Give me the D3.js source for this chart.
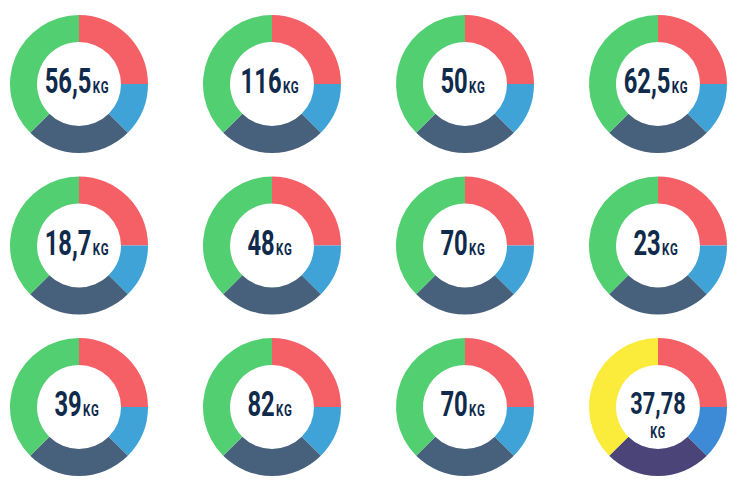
<!DOCTYPE html>
<html>
<head>
<meta charset="utf-8">
<script src="https://cdn.jsdelivr.net/npm/d3@7"></script>
<style>
  body { margin: 0; background: #fff; }
  text { font-family: Roboto, "Open Sans", sans-serif; font-weight: 700; fill: #0f2a4b; }
</style>
</head>
<body>
<div id="chart"></div>
<script>
var weights = ['56,5', '116', '50', '62,5', '18,7', '48', '70', '23', '39', '82', '70', '37,78']
var segments = ['a', 'b', 'c', 'd']
var shares = [25, 12.5, 25, 37.5]
var colors = ['#f55f66', '#3fa3d7', '#47607b', '#52cf70']
var lastColors = ['#f55f66', '#3d8bd7', '#4a4479', '#fbeb3b']
var unit = 'KG'

var width = 735
var height = 490
var cols = 4
var outer = 69
var inner = 42

var x = d3.scaleLinear().domain([0, cols - 1]).range([79, 658])
var y = d3.scaleLinear().domain([0, 2]).range([84, 407])

var svg = d3.select('#chart').append('svg')
  .attr('width', width)
  .attr('height', height)

var pie = d3.pie().sort(null).value(function (d) { return d.v })
var arc = d3.arc().innerRadius(inner).outerRadius(outer)

var slices = pie(segments.map(function (s, i) { return { key: s, v: shares[i] } }))

var node = svg.selectAll('.donut')
  .data(weights)
  .enter().append('g')
  .attr('class', 'donut')
  .attr('transform', function (d, i) {
    return 'translate(' + x(i % cols) + ',' + y(Math.floor(i / cols)) + ')'
  })

node.each(function (w, i) {
  var g = d3.select(this)
  var pal = i === weights.length - 1 ? lastColors : colors
  g.selectAll('path')
    .data(slices)
    .enter().append('path')
    .attr('d', arc)
    .attr('fill', function (d, j) { return pal[j] })

  // condensed look: squeeze the text horizontally
  var t = g.append('g').attr('transform', 'scale(0.68,1)')
  if (w.length > 4) {
    t.append('text')
      .attr('text-anchor', 'middle')
      .attr('y', 7)
      .attr('font-size', 32)
      .text(w)
    t.append('text')
      .attr('text-anchor', 'middle')
      .attr('y', 31)
      .attr('font-size', 16)
      .attr('letter-spacing', 1)
      .text(unit)
  } else {
    var txt = t.append('text')
      .attr('text-anchor', 'middle')
      .attr('x', -3)
      .attr('y', 9)
    txt.append('tspan').attr('font-size', 35).text(w)
    txt.append('tspan').attr('font-size', 17).attr('dx', 2).attr('letter-spacing', 1).text(unit)
  }
})
</script>
</body>
</html>
